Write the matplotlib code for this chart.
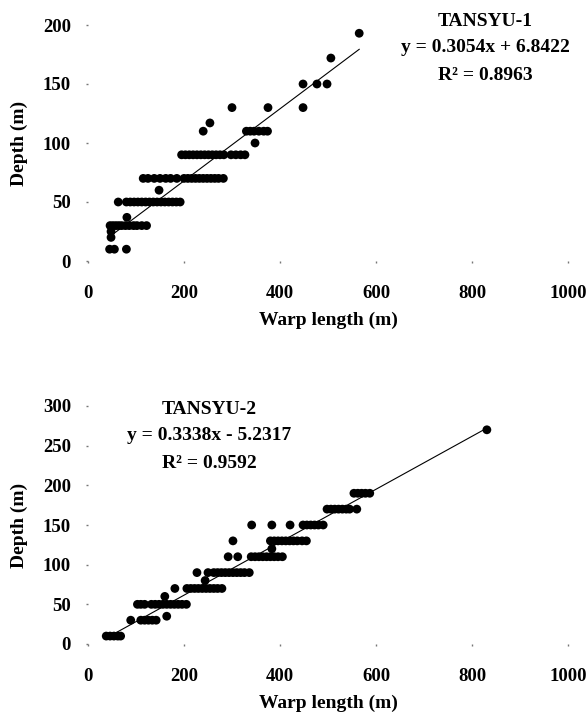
import matplotlib
matplotlib.use("Agg")
import matplotlib.pyplot as plt
import numpy as np

# ---- TANSYU-1 : warp length (m) vs depth (m) ----
t1_warp = [45, 55, 80, 48, 48,
           46, 52, 58, 64, 70, 78, 86, 95, 102, 112, 122, 81,
           63, 80, 88, 96, 104, 112, 120, 128, 136, 144, 152, 160, 168, 176,
           184, 192, 148,
           115, 125, 138, 150, 162, 172, 185, 200, 208, 216, 224, 232, 240,
           248, 256, 264, 272, 282,
           195, 203, 211, 219, 227, 235, 243, 251, 259, 267, 275, 283, 298,
           308, 318, 327,
           348, 330, 338, 346, 356, 366, 374, 240, 254,
           300, 375, 448, 448, 477, 498, 506, 565]
t1_depth = [10, 10, 10, 20, 25,
            30, 30, 30, 30, 30, 30, 30, 30, 30, 30, 30, 37,
            50, 50, 50, 50, 50, 50, 50, 50, 50, 50, 50, 50, 50, 50,
            50, 50, 60,
            70, 70, 70, 70, 70, 70, 70, 70, 70, 70, 70, 70, 70,
            70, 70, 70, 70, 70,
            90, 90, 90, 90, 90, 90, 90, 90, 90, 90, 90, 90, 90,
            90, 90, 90,
            100, 110, 110, 110, 110, 110, 110, 110, 117,
            130, 130, 130, 150, 150, 150, 172, 193]
t1_slope, t1_icept, t1_r2 = 0.3054, 6.8422, 0.8963

# ---- TANSYU-2 ----
t2_warp = [38, 46, 54, 62, 68,
           89, 110, 118, 126, 134, 142, 164,
           103, 110, 118, 132, 140, 148, 156, 164, 172, 180, 188, 196, 205, 160,
           181, 206, 214, 222, 230, 238, 246, 254, 262, 270, 279,
           227, 250, 244,
           262, 270, 278, 286, 294, 302, 310, 318, 326, 336,
           292, 312, 340, 348, 356, 364, 372, 380, 388, 396, 405, 383,
           302, 380, 388, 396, 404, 412, 420, 428, 436, 446, 455,
           341, 383, 421, 448, 456, 464, 472, 480, 490,
           498, 506, 514, 522, 530, 538, 545, 560,
           554, 562, 570, 578, 587, 831]
t2_depth = [10, 10, 10, 10, 10,
            30, 30, 30, 30, 30, 30, 35,
            50, 50, 50, 50, 50, 50, 50, 50, 50, 50, 50, 50, 50, 60,
            70, 70, 70, 70, 70, 70, 70, 70, 70, 70, 70,
            90, 90, 80,
            90, 90, 90, 90, 90, 90, 90, 90, 90, 90,
            110, 110, 110, 110, 110, 110, 110, 110, 110, 110, 110, 120,
            130, 130, 130, 130, 130, 130, 130, 130, 130, 130, 130,
            150, 150, 150, 150, 150, 150, 150, 150, 150,
            170, 170, 170, 170, 170, 170, 170, 170,
            190, 190, 190, 190, 190, 270]
t2_slope, t2_icept, t2_r2 = 0.3338, -5.2317, 0.9592

x_ticks = [0, 200, 400, 600, 800, 1000]
t1_yticks = [0, 50, 100, 150, 200]
t2_yticks = [0, 50, 100, 150, 200, 250, 300]

W, H = 588, 715
FONT = "Liberation Serif"
plt.rcParams["font.family"] = [FONT, "DejaVu Serif"]
plt.rcParams["font.weight"] = "bold"

fig = plt.figure(figsize=(W / 100, H / 100), dpi=100)
fig.patch.set_facecolor("white")


def px_box(left, top, right, bottom):
    return [left / W, 1 - bottom / H, (right - left) / W, (bottom - top) / H]


def panel(box, warp, depth, slope, icept, r2, name, yticks, ymax, text_xy):
    ax = fig.add_axes(px_box(*box))
    ax.scatter(warp, depth, s=40, c="black", edgecolors="none", zorder=3)
    xs = np.array([min(warp), max(warp)])
    ax.plot(xs, slope * xs + icept, color="black", lw=0.8, zorder=2)
    ax.set_xlim(0, 1000)
    ax.set_ylim(0, ymax)
    ax.set_xticks(x_ticks)
    ax.set_yticks(yticks)
    for s in ax.spines.values():
        s.set_visible(False)
    ax.tick_params(axis="both", length=1.2, width=1, color="#777777",
                   labelsize=13.5)
    ax.tick_params(axis="y", pad=11)
    ax.tick_params(axis="x", pad=16)
    for lab in ax.get_xticklabels() + ax.get_yticklabels():
        lab.set_fontweight("bold")
    ax.set_xlabel("Warp length (m)", fontsize=14, fontweight="bold")
    ax.set_ylabel("Depth (m)", fontsize=14, fontweight="bold")
    # x label sits ~51 px below the bottom of the plotting area
    ax.xaxis.set_label_coords(0.5, -51 / (box[3] - box[1]))
    ax.yaxis.set_label_coords(-0.125, 0.5)
    cx, cy = text_xy
    sign = "+" if icept >= 0 else "-"
    lines = [name,
             f"y = {slope:.4f}x {sign} {abs(icept):.4f}",
             f"R\u00b2 = {r2:.4f}"]
    for i, t in enumerate(lines):
        fig.text(cx / W, 1 - (cy + 27 * i) / H, t, ha="center", va="center",
                 fontsize=14, fontweight="bold")
    return ax


ax1 = panel((88, 25, 568, 261), t1_warp, t1_depth, t1_slope, t1_icept, t1_r2,
            "TANSYU-1", t1_yticks, 200, (485, 21))

ax2 = panel((88, 406, 568, 644), t2_warp, t2_depth, t2_slope, t2_icept, t2_r2,
            "TANSYU-2", t2_yticks, 300, (209, 409))

fig.savefig("out.png", dpi=100, facecolor="white")
